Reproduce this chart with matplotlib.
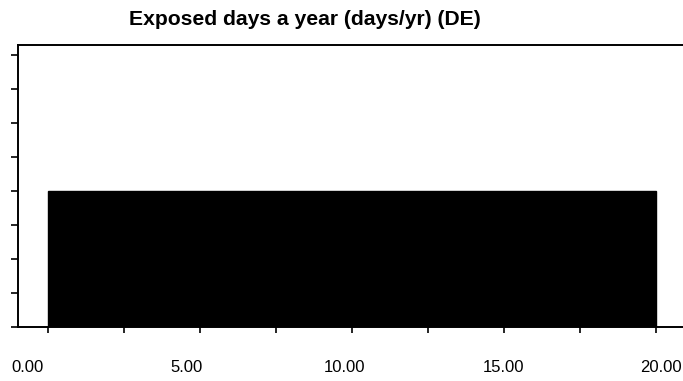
import matplotlib.pyplot as plt
import matplotlib.transforms as mtransforms
import numpy as np

# histogram of exposed days a year (uniform between 0 and 20)
bin_left = [0.0]
bin_width = [20.0]
density = [0.05]

x_major = [0, 5, 10, 15, 20]
x_minor = [2.5, 7.5, 12.5, 17.5]
x_labels = ['0.00', '5.00', '10.00', '15.00', '20.00']
# the scanned labels sit a little off their ticks
x_label_pos = [-0.66, 4.56, 9.75, 15.0, 20.16]
y_ticks = [0, 0.0125, 0.025, 0.0375, 0.05, 0.0625, 0.075, 0.0875, 0.1]

plt.rcParams['font.family'] = ['Liberation Sans', 'DejaVu Sans']

fig = plt.figure(figsize=(6.83, 3.81), dpi=100)
ax = fig.add_axes([0.026, 0.142, 0.974, 0.740])

ax.bar(bin_left, density, width=bin_width, align='edge', color='black', edgecolor='black')

ax.set_xlim(-0.99, 20.9)
ax.set_ylim(0, 0.1036)

ax.set_xticks(x_major)
ax.set_xticklabels([])
ax.set_xticks(x_minor, minor=True)
ax.set_yticks(y_ticks)
ax.set_yticklabels([])

trans = mtransforms.blended_transform_factory(ax.transData, fig.transFigure)
for pos, lab in zip(x_label_pos, x_labels):
    ax.text(pos, 1 - 368 / 381, lab, transform=trans, ha='center', va='center', fontsize=12)

ax.tick_params(axis='x', which='both', direction='out', length=4, width=1.2)
ax.tick_params(axis='y', direction='out', length=5, width=1.2)

for side in ['left', 'top', 'bottom']:
    ax.spines[side].set_linewidth(1.4)
ax.spines['right'].set_visible(False)

fig.text(0.447, 0.948, 'Exposed days a year (days/yr) (DE)', ha='center', va='center',
         fontsize=15.2, fontweight='bold')

fig.savefig('out.png', dpi=100)
